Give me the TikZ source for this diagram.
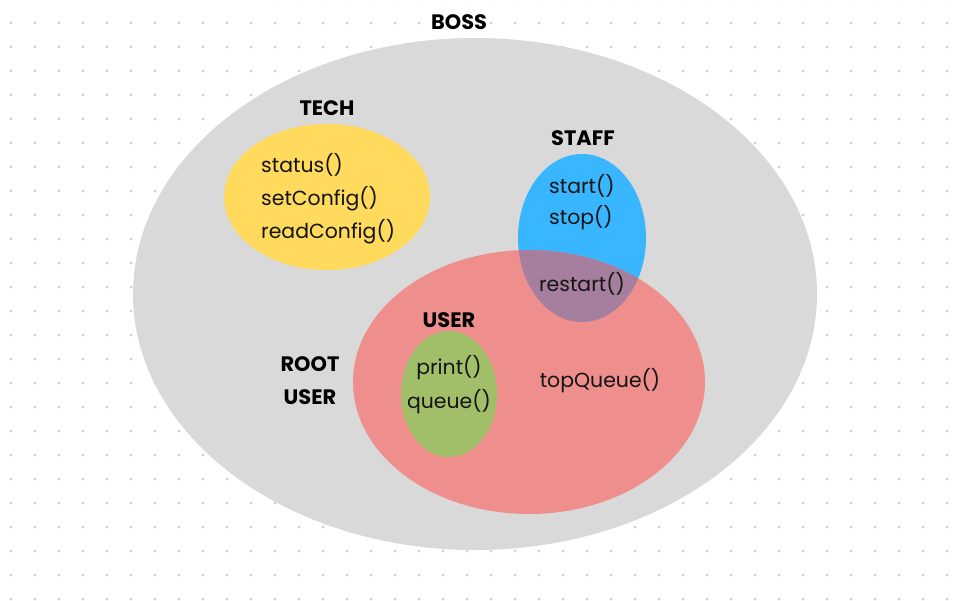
\documentclass[tikz,border=0pt]{standalone}
\usepackage{fontspec}
\setmainfont{Poppins}
\definecolor{dotc}{HTML}{C9CED9}
\definecolor{bossc}{HTML}{D9D9D9}
\definecolor{techc}{HTML}{FFDA5C}
\definecolor{staffc}{HTML}{38B6FF}
\definecolor{rootc}{HTML}{EE8E8D}
\definecolor{overc}{HTML}{A57F9D}
\definecolor{userc}{HTML}{A1BF68}
\tikzset{
  setlabel/.style={font=\bfseries\fontsize{21}{21}\selectfont, text=black, inner sep=0pt},
  item/.style={font=\fontsize{20.5}{20.5}\selectfont, text=black!92, inner sep=0pt},
}
\begin{document}
\begin{tikzpicture}[x=1bp,y=-1bp]
\useasboundingbox (0,0) rectangle (969,601);
\fill[white] (0,0) rectangle (969,601);
\foreach \i in {0,...,40}{
  \foreach \j in {0,...,25}{
    \fill[dotc] ({11+24*\i},{-1+24*\j}) circle (1.5);
  }
}
% set regions
\fill[bossc] (475,294) ellipse [x radius=342, y radius=256];
\fill[techc] (327,197) ellipse [x radius=103, y radius=73];
\fill[staffc] (582,238) ellipse [x radius=64, y radius=84];
\fill[rootc] (529,382) ellipse [x radius=176, y radius=132];
\begin{scope}
  \clip (582,238) ellipse [x radius=64, y radius=84];
  \fill[overc] (529,382) ellipse [x radius=176, y radius=132];
\end{scope}
\fill[userc] (449,394) ellipse [x radius=48, y radius=63];
% labels
\node[setlabel] (boss) at (459,22) {BOSS};
\node[setlabel] (tech) at (327,108) {TECH};
\node[setlabel] (staff) at (583,138) {STAFF};
\node[setlabel] (user) at (449,320) {USER};
\node[setlabel] (root) at (310,364) {ROOT};
\node[setlabel] (rootuser) at (310,397) {USER};
% items
\node[item, anchor=west] (status) at (261,165) {status()};
\node[item, anchor=west] (setconfig) at (261,199) {setConfig()};
\node[item, anchor=west] (readconfig) at (261,232) {readConfig()};
\node[item, anchor=west] (start) at (549,186) {start()};
\node[item, anchor=west] (stop) at (549,218) {stop()};
\node[item] (restart) at (582,284) {restart()};
\node[item] (print) at (449,368) {print()};
\node[item] (queue) at (449,402) {queue()};
\node[item] (topqueue) at (600,381) {topQueue()};
\end{tikzpicture}
\end{document}
